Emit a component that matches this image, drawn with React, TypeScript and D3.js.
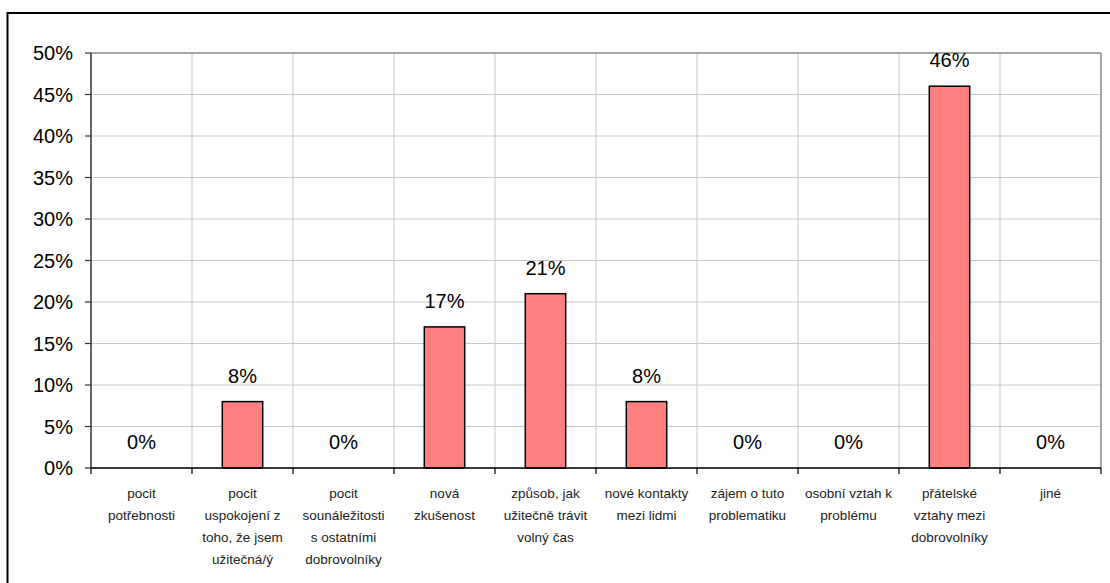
import React from "react";
import * as d3 from "d3";

const categories = [
  ["pocit", "potřebnosti"],
  ["pocit", "uspokojení z", "toho, že jsem", "užitečná/ý"],
  ["pocit", "sounáležitosti", "s ostatními", "dobrovolníky"],
  ["nová", "zkušenost"],
  ["způsob, jak", "užitečně trávit", "volný čas"],
  ["nové kontakty", "mezi lidmi"],
  ["zájem o tuto", "problematiku"],
  ["osobní vztah k", "problému"],
  ["přátelské", "vztahy mezi", "dobrovolníky"],
  ["jiné"],
];
const values = [0, 0.08, 0, 0.17, 0.21, 0.08, 0, 0, 0.46, 0];
const yTicks = [0, 0.05, 0.1, 0.15, 0.2, 0.25, 0.3, 0.35, 0.4, 0.45, 0.5];

const W = 1110;
const H = 583;
const margin = { top: 53, right: 9, bottom: 115, left: 91 };

export default function App() {
  const x = d3
    .scaleBand<number>()
    .domain(d3.range(values.length))
    .range([margin.left, W - margin.right])
    .paddingInner(0)
    .paddingOuter(0);
  const y = d3
    .scaleLinear()
    .domain([0, 0.5])
    .range([H - margin.bottom, margin.top]);
  const fmt = d3.format(".0%");
  const bw = x.bandwidth() * 0.4;
  const font = "'Liberation Sans', Arial, sans-serif";

  return (
    <svg
      width={W}
      height={H}
      style={{ position: "absolute", left: 0, top: 0, background: "#fff" }}
    >
      {/* outer frame */}
      <rect x={7.5} y={13} width={W + 20} height={H + 20} fill="none" stroke="#000" strokeWidth={2} />

      {/* horizontal grid */}
      {yTicks.map((t) => (
        <line key={"h" + t} x1={margin.left} x2={W - margin.right} y1={y(t)} y2={y(t)} stroke="#c8c8c8" strokeWidth={1} />
      ))}
      {/* vertical grid */}
      {d3.range(1, values.length + 1).map((i) => {
        const xx = i < values.length ? x(i)! : W - margin.right;
        return <line key={"v" + i} x1={xx} x2={xx} y1={y(0.5)} y2={y(0)} stroke="#c8c8c8" strokeWidth={1} />;
      })}
      {/* plot border top/right */}
      <line x1={margin.left} x2={W - margin.right} y1={y(0.5)} y2={y(0.5)} stroke="#909090" strokeWidth={1.5} />
      <line x1={W - margin.right} x2={W - margin.right} y1={y(0.5)} y2={y(0)} stroke="#909090" strokeWidth={1.5} />

      {/* bars */}
      {values.map((v, i) =>
        v > 0 ? (
          <rect
            key={"b" + i}
            x={x(i)! + (x.bandwidth() - bw) / 2}
            y={y(v)}
            width={bw}
            height={y(0) - y(v)}
            fill="#ff8080"
            stroke="#000"
            strokeWidth={1.5}
          />
        ) : null
      )}

      {/* value labels */}
      {values.map((v, i) => (
        <text
          key={"l" + i}
          x={x(i)! + x.bandwidth() / 2}
          y={y(v) - 19}
          textAnchor="middle"
          fontFamily={font}
          fontSize={20}
          fill="#000"
        >
          {fmt(v)}
        </text>
      ))}

      {/* y axis */}
      <line x1={margin.left} x2={margin.left} y1={y(0.5)} y2={y(0)} stroke="#333" strokeWidth={1.5} />
      {yTicks.map((t) => (
        <g key={"t" + t}>
          <line x1={margin.left - 6} x2={margin.left} y1={y(t)} y2={y(t)} stroke="#333" strokeWidth={1.2} />
          <text x={73} y={y(t) + 7} textAnchor="end" fontFamily={font} fontSize={20} fill="#000">
            {fmt(t)}
          </text>
        </g>
      ))}

      {/* x axis */}
      <line x1={margin.left} x2={W - margin.right} y1={y(0)} y2={y(0)} stroke="#000" strokeWidth={1.5} />
      {d3.range(values.length + 1).map((i) => {
        const xx = i < values.length ? x(i)! : W - margin.right;
        return <line key={"xt" + i} x1={xx} x2={xx} y1={y(0)} y2={y(0) + 6} stroke="#000" strokeWidth={1.2} />;
      })}
      {categories.map((lines, i) => (
        <text
          key={"c" + i}
          x={x(i)! + x.bandwidth() / 2}
          y={y(0) + 30}
          textAnchor="middle"
          fontFamily={font}
          fontSize={13.5}
          fill="#222"
        >
          {lines.map((ln, j) => (
            <tspan key={j} x={x(i)! + x.bandwidth() / 2} dy={j === 0 ? 0 : 22}>
              {ln}
            </tspan>
          ))}
        </text>
      ))}
    </svg>
  );
}
